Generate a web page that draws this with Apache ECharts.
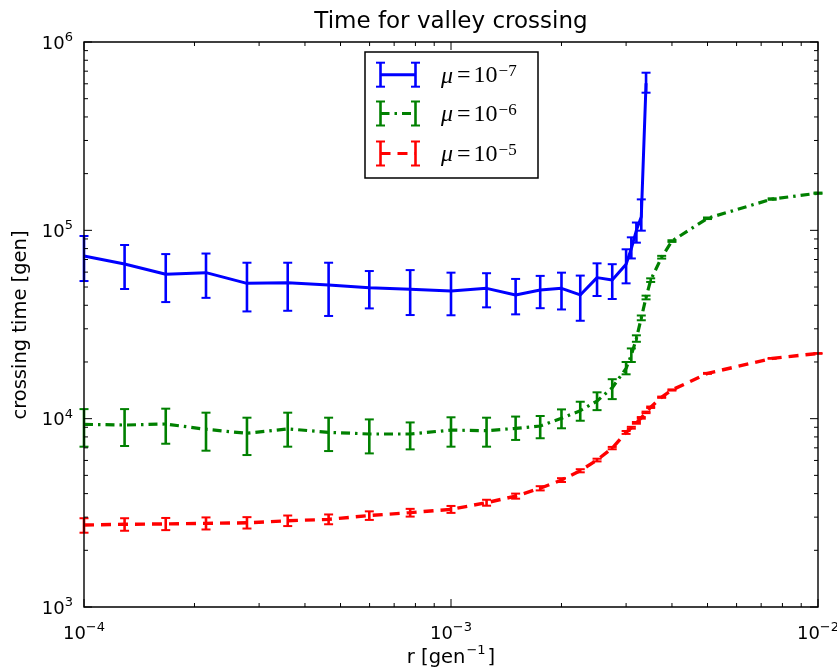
<!DOCTYPE html>
<html><head><meta charset="utf-8">
<script src="https://cdn.jsdelivr.net/npm/echarts@6/dist/echarts.min.js"></script>
<style>html,body{margin:0;padding:0;background:#fff}#c{width:837px;height:668px}</style>
</head><body><div id="c"></div>
<script>
// ---- data ----
const blueR = [1e-4, 1.29e-4, 1.67e-4, 2.15e-4, 2.78e-4, 3.59e-4, 4.64e-4, 5.99e-4, 7.74e-4, 1e-3,
  1.25e-3, 1.5e-3, 1.75e-3, 2e-3, 2.25e-3, 2.5e-3, 2.75e-3, 3e-3, 3.1e-3, 3.2e-3, 3.3e-3, 3.4e-3];
const blueT  = [73100, 66300, 58400, 59600, 52300, 52700, 51300, 49600, 48600, 47600,
  49200, 45400, 48200, 49200, 45400, 56100, 54500, 66000, 80000, 100000, 118000, 604000];
const blueLo = [53800, 48800, 41600, 43800, 37100, 37400, 35100, 38500, 35500, 35400,
  39000, 35800, 38600, 38000, 33100, 44800, 43200, 52300, 70900, 86000, 99600, 538000];
const blueHi = [93300, 83600, 74800, 75300, 67300, 67300, 67300, 60800, 61500, 59600,
  59200, 55200, 57300, 59600, 57500, 66800, 66100, 79300, 91800, 110000, 146000, 687000];

const fullR = [1e-4, 1.29e-4, 1.67e-4, 2.15e-4, 2.78e-4, 3.59e-4, 4.64e-4, 5.99e-4, 7.74e-4, 1e-3,
  1.25e-3, 1.5e-3, 1.75e-3, 2e-3, 2.25e-3, 2.5e-3, 2.75e-3, 3e-3, 3.1e-3, 3.2e-3, 3.3e-3, 3.4e-3,
  3.5e-3, 3.75e-3, 4e-3, 5e-3, 7.5e-3, 1e-2];
const greenT  = [9330, 9250, 9370, 8780, 8360, 8830, 8460, 8290, 8290, 8700,
  8630, 8880, 9140, 10040, 11020, 12400, 14600, 18500, 21800, 26600, 34300, 44000,
  54400, 72000, 87700, 115900, 146600, 157500];
const greenLo = [7100, 7160, 7360, 6760, 6410, 7100, 6730, 6540, 6870, 7100,
  7100, 7710, 7870, 8890, 9750, 11100, 12700, 17200, 20000, 25600, 33300, 43000,
  53200, 70800, 86800, 114800, 145300, 156300];
const greenHi = [11240, 11240, 11300, 10760, 10120, 10760, 10120, 9910, 9550, 10170,
  10120, 10260, 10330, 11200, 12300, 13800, 16200, 20000, 23600, 27700, 35300, 45000,
  55600, 73200, 88600, 117000, 147900, 158700];

const redT  = [2724, 2750, 2760, 2780, 2800, 2870, 2920, 3060, 3170, 3300,
  3580, 3880, 4270, 4720, 5290, 6030, 6980, 8450, 8950, 9500, 10100, 10800,
  11500, 13000, 14200, 17400, 20900, 22200];
const redLo = [2480, 2540, 2560, 2580, 2610, 2690, 2750, 2900, 3020, 3160,
  3450, 3760, 4160, 4610, 5190, 5930, 6880, 8300, 8850, 9400, 10000, 10700,
  11400, 12900, 14100, 17300, 20800, 22100];
const redHi = [2960, 2960, 2970, 2990, 3000, 3060, 3100, 3220, 3320, 3440,
  3710, 4000, 4380, 4830, 5390, 6130, 7080, 8600, 9050, 9600, 10200, 10900,
  11600, 13100, 14300, 17500, 21000, 22300];

const xMajor = [1e-4, 1e-3, 1e-2];
const xMinor = [2e-4,3e-4,4e-4,5e-4,6e-4,7e-4,8e-4,9e-4,2e-3,3e-3,4e-3,5e-3,6e-3,7e-3,8e-3,9e-3];
const yMajor = [1e3, 1e4, 1e5, 1e6];
const yMinor = [2e3,3e3,4e3,5e3,6e3,7e3,8e3,9e3,2e4,3e4,4e4,5e4,6e4,7e4,8e4,9e4,2e5,3e5,4e5,5e5,6e5,7e5,8e5,9e5];

const legendLabels = ['−7', '−6', '−5'];

// ---- chart ----
const BLUE = '#0000ff', GREEN = '#008000', RED = '#ff0000';
const FONT = 'DejaVu Sans';
const chart = echarts.init(document.getElementById('c'), null, {renderer: 'canvas'});

function supFmt(v) {
  const e = Math.round(Math.log10(v));
  return '{b|10}{s|' + (e < 0 ? '−' + (-e) : e) + '}';
}
const richTick = {
  b: {fontFamily: FONT, fontSize: 18, color: '#000', lineHeight: 22, verticalAlign: 'bottom'},
  s: {fontFamily: FONT, fontSize: 13, color: '#000', lineHeight: 14, verticalAlign: 'top'}
};

function errSeries(color, r, lo, hi) {
  return {
    type: 'custom', silent: true, z: 3,
    data: r.map((x, i) => [x, lo[i], hi[i]]),
    encode: {x: 0, y: [1, 2]},
    renderItem(params, api) {
      const x = api.value(0);
      const p1 = api.coord([x, api.value(1)]);
      const p2 = api.coord([x, api.value(2)]);
      const w = 4.5;
      return {type: 'group', children: [
        {type: 'line', shape: {x1: p1[0], y1: p1[1], x2: p2[0], y2: p2[1]}, style: {stroke: color, lineWidth: 2.6}},
        {type: 'line', shape: {x1: p1[0] - w, y1: p1[1], x2: p1[0] + w, y2: p1[1]}, style: {stroke: color, lineWidth: 2}},
        {type: 'line', shape: {x1: p2[0] - w, y1: p2[1], x2: p2[0] + w, y2: p2[1]}, style: {stroke: color, lineWidth: 2}}
      ]};
    }
  };
}
function lineSeries(color, r, t, dash, width) {
  return {
    type: 'line', z: 2, symbol: 'none', showSymbol: false, silent: true,
    data: r.map((x, i) => [x, t[i]]),
    lineStyle: {color, width, type: dash, cap: 'butt'}
  };
}
function xTickSeries(vals, len) {
  return {
    type: 'custom', silent: true, z: 5,
    data: vals.map(v => [v, 1e3]),
    encode: {x: 0, y: 1},
    renderItem(params, api) {
      const cs = params.coordSys;
      const x = api.coord([api.value(0), 1e3])[0];
      const st = {stroke: '#000', lineWidth: 1};
      return {type: 'group', children: [
        {type: 'line', shape: {x1: x, y1: cs.y + cs.height, x2: x, y2: cs.y + cs.height - len}, style: st},
        {type: 'line', shape: {x1: x, y1: cs.y, x2: x, y2: cs.y + len}, style: st}
      ]};
    }
  };
}
function yTickSeries(vals, len) {
  return {
    type: 'custom', silent: true, z: 5,
    data: vals.map(v => [1e-4, v]),
    encode: {x: 0, y: 1},
    renderItem(params, api) {
      const cs = params.coordSys;
      const y = api.coord([1e-4, api.value(1)])[1];
      const st = {stroke: '#000', lineWidth: 1};
      return {type: 'group', children: [
        {type: 'line', shape: {x1: cs.x, y1: y, x2: cs.x + len, y2: y}, style: st},
        {type: 'line', shape: {x1: cs.x + cs.width, y1: y, x2: cs.x + cs.width - len, y2: y}, style: st}
      ]};
    }
  };
}

// legend graphic
const LX = 365, LY = 52, LW = 173, LH = 126;
const rows = [74.7, 113.5, 153.5];
const legendColors = [BLUE, GREEN, RED];
const legendDash = [null, [9, 5, 2.5, 5], [10, 7]];
const legendChildren = [{
  type: 'rect', shape: {x: LX, y: LY, width: LW, height: LH},
  style: {fill: '#fff', stroke: '#000', lineWidth: 1.5}
}];
rows.forEach((cy, i) => {
  const c = legendColors[i];
  const xa = 380.5, xb = 415.5, h = 12, w = 4.5;
  legendChildren.push(
    {type: 'line', shape: {x1: xa, y1: cy, x2: xb, y2: cy},
      style: {stroke: c, lineWidth: 3, lineDash: legendDash[i] || null}},
    {type: 'line', shape: {x1: xa, y1: cy - h, x2: xa, y2: cy + h}, style: {stroke: c, lineWidth: 2.6}},
    {type: 'line', shape: {x1: xb, y1: cy - h, x2: xb, y2: cy + h}, style: {stroke: c, lineWidth: 2.6}},
    {type: 'line', shape: {x1: xa - w, y1: cy - h, x2: xa + w, y2: cy - h}, style: {stroke: c, lineWidth: 2}},
    {type: 'line', shape: {x1: xa - w, y1: cy + h, x2: xa + w, y2: cy + h}, style: {stroke: c, lineWidth: 2}},
    {type: 'line', shape: {x1: xb - w, y1: cy - h, x2: xb + w, y2: cy - h}, style: {stroke: c, lineWidth: 2}},
    {type: 'line', shape: {x1: xb - w, y1: cy + h, x2: xb + w, y2: cy + h}, style: {stroke: c, lineWidth: 2}},
    {type: 'text', x: 441, y: cy + 1, style: {
      text: '{mu|μ}{eq|=}{n|10}{s|' + legendLabels[i] + '}',
      textAlign: 'left', textVerticalAlign: 'middle',
      rich: {
        mu: {fontFamily: 'Liberation Serif', fontStyle: 'italic', fontSize: 24, color: '#000', lineHeight: 25, verticalAlign: 'bottom', padding: [0, 4, 0, 0]},
        eq: {fontFamily: 'Liberation Serif', fontSize: 24, color: '#000', lineHeight: 25, verticalAlign: 'bottom', padding: [0, 3, 0, 0]},
        n: {fontFamily: 'Liberation Serif', fontSize: 24, color: '#000', lineHeight: 25, verticalAlign: 'bottom'},
        s: {fontFamily: 'Liberation Serif', fontSize: 17, color: '#000', lineHeight: 15, verticalAlign: 'top', padding: [0, 0, 0, 1]}
      }
    }}
  );
});

const option = {
  animation: false,
  backgroundColor: '#fff',
  grid: {left: 84, right: 19, top: 42, bottom: 61, show: true, borderColor: '#000', borderWidth: 1.4,
    backgroundColor: 'transparent', z: 10, containLabel: false, outerBoundsMode: 'none'},
  xAxis: {
    type: 'log', logBase: 10, min: 1e-4, max: 1e-2,
    axisLine: {show: false}, axisTick: {show: false}, splitLine: {show: false}, minorTick: {show: false},
    axisLabel: {margin: 14, formatter: supFmt, rich: richTick}
  },
  yAxis: {
    type: 'log', logBase: 10, min: 1e3, max: 1e6,
    axisLine: {show: false}, axisTick: {show: false}, splitLine: {show: false},
    axisLabel: {margin: 11, formatter: supFmt, rich: richTick}
  },
  series: [
    lineSeries(BLUE, blueR, blueT, 'solid', 3),
    errSeries(BLUE, blueR, blueLo, blueHi),
    lineSeries(GREEN, fullR, greenT, [9, 5, 2.5, 5], 3.2),
    errSeries(GREEN, fullR, greenLo, greenHi),
    lineSeries(RED, fullR, redT, [10, 7], 3.4),
    errSeries(RED, fullR, redLo, redHi),
    xTickSeries(xMajor, 8), xTickSeries(xMinor, 4),
    yTickSeries(yMajor, 8), yTickSeries(yMinor, 4)
  ],
  graphic: [
    {type: 'text', x: 451, y: 22, z: 20, style: {text: 'Time for valley crossing', fontFamily: FONT, fontSize: 23, fill: '#000', textAlign: 'center', textVerticalAlign: 'middle'}},
    {type: 'text', x: 21, y: 325, rotation: Math.PI / 2, z: 20, style: {text: 'crossing time [gen]', fontFamily: FONT, fontSize: 19.5, fill: '#000', textAlign: 'center', textVerticalAlign: 'middle'}},
    {type: 'text', x: 451, y: 656, z: 20, style: {
      text: '{a|r [gen}{s|−1}{a|]}', textAlign: 'center', textVerticalAlign: 'middle',
      rich: {
        a: {fontFamily: FONT, fontSize: 19.5, color: '#000', lineHeight: 24, verticalAlign: 'bottom'},
        s: {fontFamily: FONT, fontSize: 13, color: '#000', lineHeight: 14, verticalAlign: 'top', padding: [0, 2, 0, 1]}
      }}},
    {type: 'group', z: 30, children: legendChildren}
  ]
};
chart.setOption(option);
</script>
</body></html>
